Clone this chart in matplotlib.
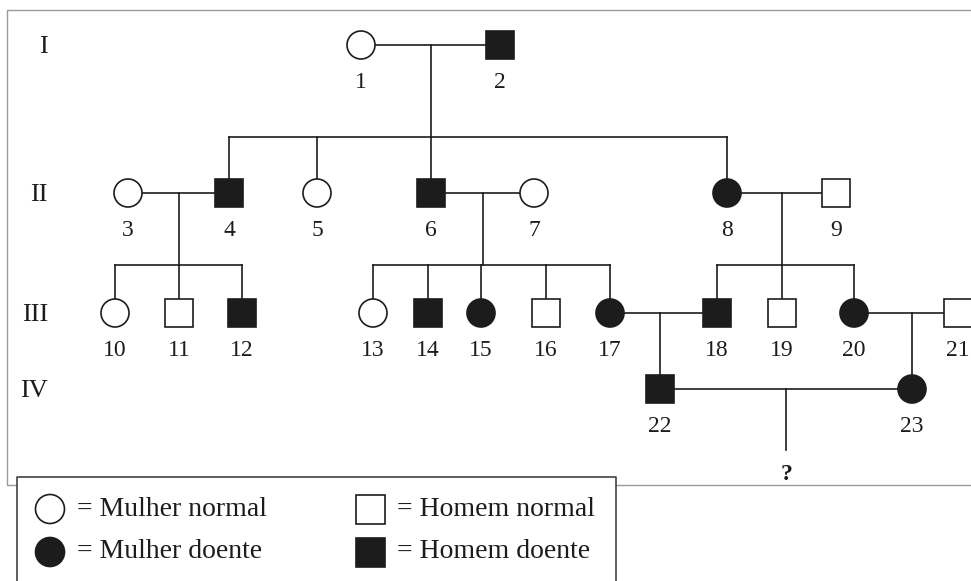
import matplotlib.pyplot as plt
from matplotlib.patches import Circle, Rectangle

# Individuals: id, sex (F/M), affected, generation
ids = [1, 2, 3, 4, 5, 6, 7, 8, 9, 10, 11, 12, 13, 14, 15, 16, 17, 18, 19, 20, 21, 22, 23]
sex = ["F", "M", "F", "M", "F", "M", "F", "F", "M", "F", "M", "M", "F", "M", "F", "M", "F", "M", "M", "F", "M", "M", "F"]
affected = [0, 1, 0, 1, 0, 1, 0, 1, 0, 0, 0, 1, 0, 1, 1, 0, 1, 1, 0, 1, 0, 1, 1]
generation = [1, 1, 2, 2, 2, 2, 2, 2, 2, 3, 3, 3, 3, 3, 3, 3, 3, 3, 3, 3, 3, 4, 4]
x_pos = [361, 500, 128, 229, 317, 431, 534, 727, 836, 115, 179, 242, 373, 428, 481, 546, 610, 717, 782, 854, 958, 660, 912]

couples = [(1, 2), (3, 4), (6, 7), (8, 9), (17, 18), (20, 21), (22, 23)]
children = [[4, 5, 6, 8], [10, 11, 12], [13, 14, 15, 16, 17], [18, 19, 20], [22], [23], ["?"]]

gen_names = ["I", "II", "III", "IV"]
gen_y = [45, 193, 313, 389]

legend_labels = ["= Mulher normal", "= Homem normal", "= Mulher doente", "= Homem doente"]

INK = "#1c1c1c"
R = 14
LW = 1.2
FONT = "Liberation Serif"

fig = plt.figure(figsize=(9.71, 5.81), dpi=100)
ax = fig.add_axes([0, 0, 1, 1])
ax.set_xlim(0, 971)
ax.set_ylim(581, 0)
ax.axis("off")

person = {i: (x, gen_y[g - 1], s, a) for i, x, g, s, a in zip(ids, x_pos, generation, sex, affected)}


def draw_symbol(x, y, s, a, r=R):
    fc = INK if a else "white"
    if s == "F":
        p = Circle((x, y), r, facecolor=fc, edgecolor=INK, lw=LW, zorder=3)
    else:
        p = Rectangle((x - r, y - r), 2 * r, 2 * r, facecolor=fc, edgecolor=INK, lw=LW, zorder=3)
    ax.add_patch(p)


# outer frame and legend box
ax.plot([971, 7, 7, 16], [10, 10, 485, 485], color="#9a9a9a", lw=1.0)
ax.plot([616, 971], [485, 485], color="#9a9a9a", lw=1.0)
ax.plot([17, 17, 616, 616], [590, 477, 477, 590], color="#333333", lw=1.1)

# generation labels
for name, y in zip(gen_names, gen_y):
    ax.text(48, y + 2, name, ha="right", va="center", fontsize=19, family=FONT, color=INK)

# couples and descent lines
for (a, b), kids in zip(couples, children):
    xa, ya = person[a][:2]
    xb, yb = person[b][:2]
    ax.plot([xa, xb], [ya, yb], color=INK, lw=LW, zorder=1)
    if kids == ["?"]:
        xm = (xa + xb) / 2
        ax.plot([xm, xm], [ya, 450], color=INK, lw=LW, zorder=1)
        ax.text(xm, 474, "?", ha="center", va="center", fontsize=17, family=FONT,
                fontweight="bold", color=INK)
        continue
    kx = [person[k][0] for k in kids]
    ky = person[kids[0]][1]
    if len(kids) == 1:
        ax.plot([kx[0], kx[0]], [ya, ky], color=INK, lw=LW, zorder=1)
        continue
    sib_y = ky - 56 if ky < 250 else ky - 48
    xm = (xa + xb) / 2
    ax.plot([xm, xm], [ya, sib_y], color=INK, lw=LW, zorder=1)
    ax.plot([min(kx), max(kx)], [sib_y, sib_y], color=INK, lw=LW, zorder=1)
    for x in kx:
        ax.plot([x, x], [sib_y, ky], color=INK, lw=LW, zorder=1)

# individuals
for i in ids:
    x, y, s, a = person[i]
    draw_symbol(x, y, s, a)
    ax.text(x, y + 38, str(i), ha="center", va="center", fontsize=17, family=FONT, color=INK)

# legend
leg_sex = ["F", "M", "F", "M"]
leg_aff = [0, 0, 1, 1]
leg_x = [50, 370, 50, 370]
leg_y = [509, 509, 552, 552]
for lab, s, a, x, y in zip(legend_labels, leg_sex, leg_aff, leg_x, leg_y):
    draw_symbol(x, y, s, a, r=14.5)
    ax.text(x + 27, y, lab, ha="left", va="center", fontsize=20, family=FONT, color=INK)

fig.savefig("out.png", dpi=100)
